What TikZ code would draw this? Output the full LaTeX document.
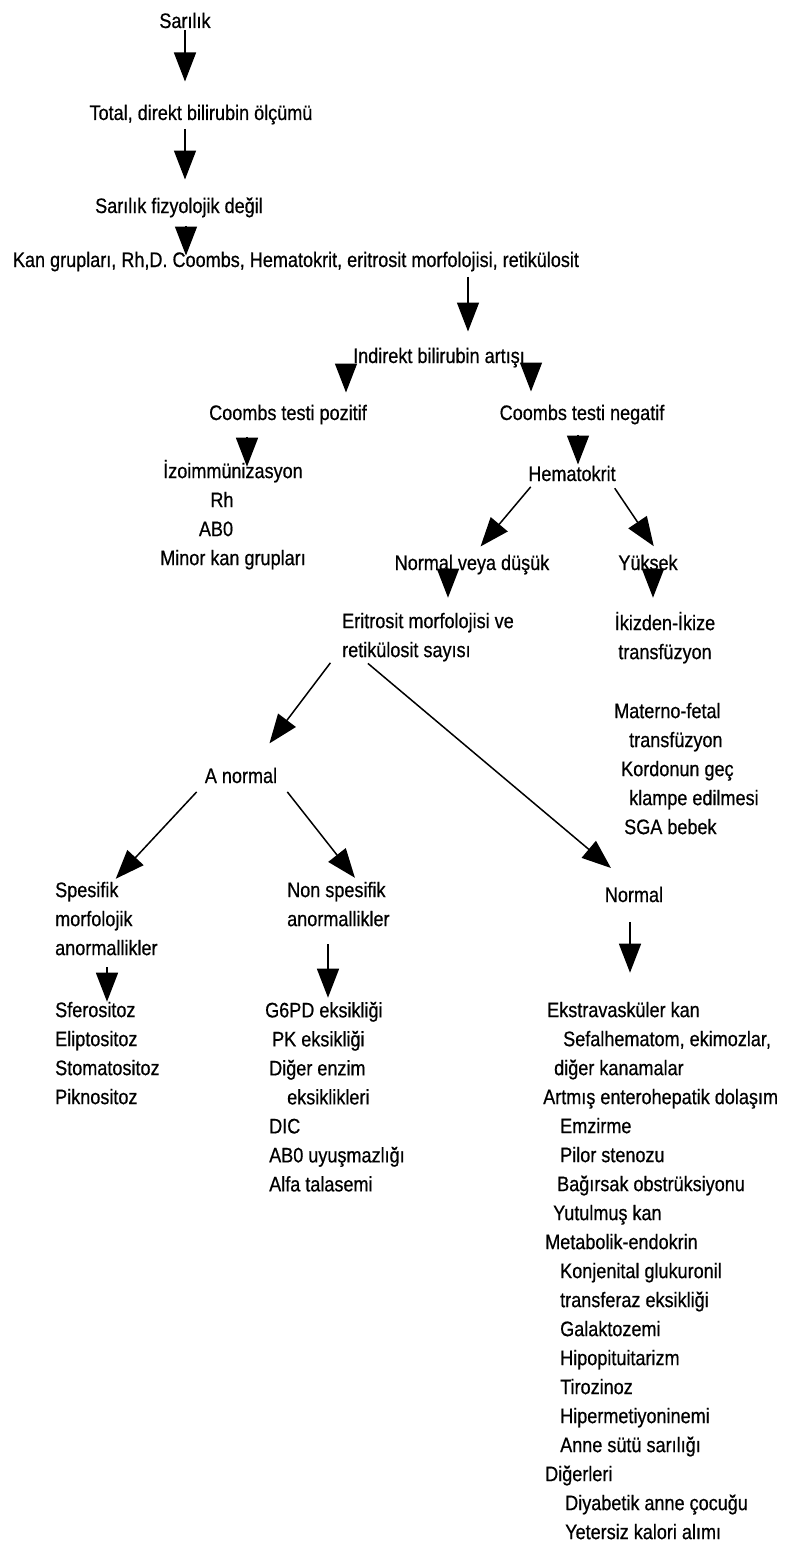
\documentclass[tikz,border=0pt]{standalone}
\usepackage{fontspec}
\setmainfont[FakeStretch=0.86,FakeBold=0.6]{Liberation Sans}
\usetikzlibrary{arrows.meta}

\begin{document}
\begin{tikzpicture}
              [x=1pt, y=-1pt,
                every node/.style={inner sep=0pt,font=\fontsize{21}{29}\selectfont,
                  execute at begin node=\strut,execute at end node=\strut},
                word/.style={anchor=base},
                block/.style={anchor=north west,align=left},
                cblock/.style={anchor=north,align=center},
                arr/.style={-{Triangle[length=29pt,width=22pt]},line width=1.5pt}]
              \useasboundingbox (0,0) rectangle (788,1560);
              \node[word] (sarilik) at (185,28) {Sarılık};
              \node[word] (total) at (201,120) {Total, direkt bilirubin ölçümü};
              \node[word] (fizyo) at (179,213) {Sarılık fizyolojik değil};
              \node[word] (kan) at (296,267) {Kan grupları, Rh,D. Coombs, Hematokrit, eritrosit morfolojisi, retikülosit};
              \node[word] (indirekt) at (439,363) {Indirekt bilirubin artışı};
              \node[word] (pozitif) at (288,420) {Coombs testi pozitif};
              \node[word] (negatif) at (582,420) {Coombs testi negatif};
              \node[cblock] (izo) at (233,459.7) {İzoimmünizasyon\\Rh\rule{22pt}{0pt}\\AB0\rule{34pt}{0pt}\\Minor kan grupları};
              \node[word] (hemato) at (572,481) {Hematokrit};
              \node[word] (normdus) at (472,570) {Normal veya düşük};
              \node[word] (yuksek) at (648,570) {Yüksek};
              \node[block] (eritro) at (342,612.7) {Eritrosit morfolojisi ve\\retikülosit sayısı};
              \node[cblock] (ikiz) at (665,611.7) {İkizden-İkize\\transfüzyon};
              \node[block] (materno) at (614,702.7) {Materno-fetal\\\hspace*{15pt}transfüzyon\\\hspace*{7pt}Kordonun geç\\\hspace*{15pt}klampe edilmesi\\\hspace*{10pt}SGA bebek};
              \node[word] (anormal) at (241,783) {A normal};
              \node[block] (spesifik) at (55,881.7) {Spesifik\\morfolojik\\anormallikler};
              \node[block] (nonspes) at (287,881.7) {Non spesifik\\anormallikler};
              \node[word] (normal) at (634,902) {Normal};
              \node[block] (speslist) at (55,1001.7) {Sferositoz\\Eliptositoz\\Stomatositoz\\Piknositoz};
              \node[block] (nonlist) at (265,1001.7) {G6PD eksikliği\\\hspace*{7pt}PK eksikliği\\\hspace*{4pt}Diğer enzim\\\hspace*{22pt}eksiklikleri\\\hspace*{4pt}DIC\\\hspace*{4pt}AB0 uyuşmazlığı\\\hspace*{4pt}Alfa talasemi};
              \node[block] (normlist) at (543,1001.7) {\hspace*{4pt}Ekstravasküler kan\\\hspace*{20pt}Sefalhematom, ekimozlar,\\\hspace*{11pt}diğer kanamalar\\Artmış enterohepatik dolaşım\\\hspace*{17pt}Emzirme\\\hspace*{17pt}Pilor stenozu\\\hspace*{14pt}Bağırsak obstrüksiyonu\\\hspace*{10pt}Yutulmuş kan\\\hspace*{2pt}Metabolik-endokrin\\\hspace*{17pt}Konjenital glukuronil\\\hspace*{17pt}transferaz eksikliği\\\hspace*{17pt}Galaktozemi\\\hspace*{17pt}Hipopituitarizm\\\hspace*{17pt}Tirozinoz\\\hspace*{17pt}Hipermetiyoninemi\\\hspace*{17pt}Anne sütü sarılığı\\\hspace*{2pt}Diğerleri\\\hspace*{22pt}Diyabetik anne çocuğu\\\hspace*{22pt}Yetersiz kalori alımı};
              \draw[arr,shorten <=-7pt,shorten >=18pt] (sarilik.south) -- (sarilik.south |- total.north);
              \draw[arr,shorten >=13pt] ([xshift=-16pt]total.south) -- ([xshift=-16pt]total.south |- fizyo.north);
              \draw[arr,shorten <=4pt,shorten >=-9pt] ([xshift=7pt]fizyo.south) -- ([xshift=7pt]fizyo.south |- kan.north);
              \draw[arr,shorten <=1pt,shorten >=11pt] ([xshift=29pt]indirekt.north |- kan.south) -- ([xshift=29pt]indirekt.north);
              \draw[arr,shorten <=-10pt,shorten >=7pt] ([xshift=58pt]pozitif.north |- indirekt.south) -- ([xshift=58pt]pozitif.north);
              \draw[arr,shorten <=-10pt,shorten >=8pt] ([xshift=-51pt]negatif.north |- indirekt.south) -- ([xshift=-51pt]negatif.north);
              \draw[arr,shorten <=8pt,shorten >=-7pt] ([xshift=14pt]izo.north |- pozitif.south) -- ([xshift=14pt]izo.north);
              \draw[arr,shorten <=6pt,shorten >=-4pt] ([xshift=6pt]hemato.north |- negatif.south) -- ([xshift=6pt]hemato.north);
              \draw[arr,shorten <=-4pt,shorten >=4pt] (hemato.south west) -- ([xshift=6pt]normdus.north);
              \draw[arr,shorten <=-2pt,shorten >=4pt] (hemato.south east) -- ([xshift=8pt]yuksek.north);
              \draw[arr,shorten <=-12pt,shorten >=15pt] ([xshift=-24pt]normdus.south) -- ([xshift=-24pt]normdus.south |- eritro.north);
              \draw[arr,shorten <=-12pt,shorten >=14pt] ([xshift=5pt]yuksek.south) -- ([xshift=5pt]yuksek.south |- ikiz.north);
              \draw[arr,shorten <=-4pt,shorten >=24pt] ([xshift=-14pt]eritro.south west) -- ([xshift=14pt]anormal.north);
              \draw[arr,shorten <=-4pt,shorten >=21pt] ([xshift=29pt]eritro.south west) -- ([xshift=-7pt]normal.north);
              \draw[arr,shorten >=4pt] ([xshift=-8pt]anormal.south west) -- ([xshift=58pt]spesifik.north west);
              \draw[arr,shorten >=5pt] ([xshift=10pt]anormal.south east) -- ([xshift=71pt]nonspes.north west);
              \draw[arr,shorten <=3pt] ([xshift=52pt]spesifik.south west) -- ([xshift=52pt]spesifik.south west |- speslist.north);
              \draw[arr,shorten <=9pt,shorten >=4pt] ([xshift=41pt]nonspes.south west) -- ([xshift=41pt]nonspes.south west |- nonlist.north);
              \draw[arr,shorten <=11pt,shorten >=29pt] ([xshift=-4pt]normal.south) -- ([xshift=-4pt]normal.south |- normlist.north);
            \end{tikzpicture}
\end{document}
